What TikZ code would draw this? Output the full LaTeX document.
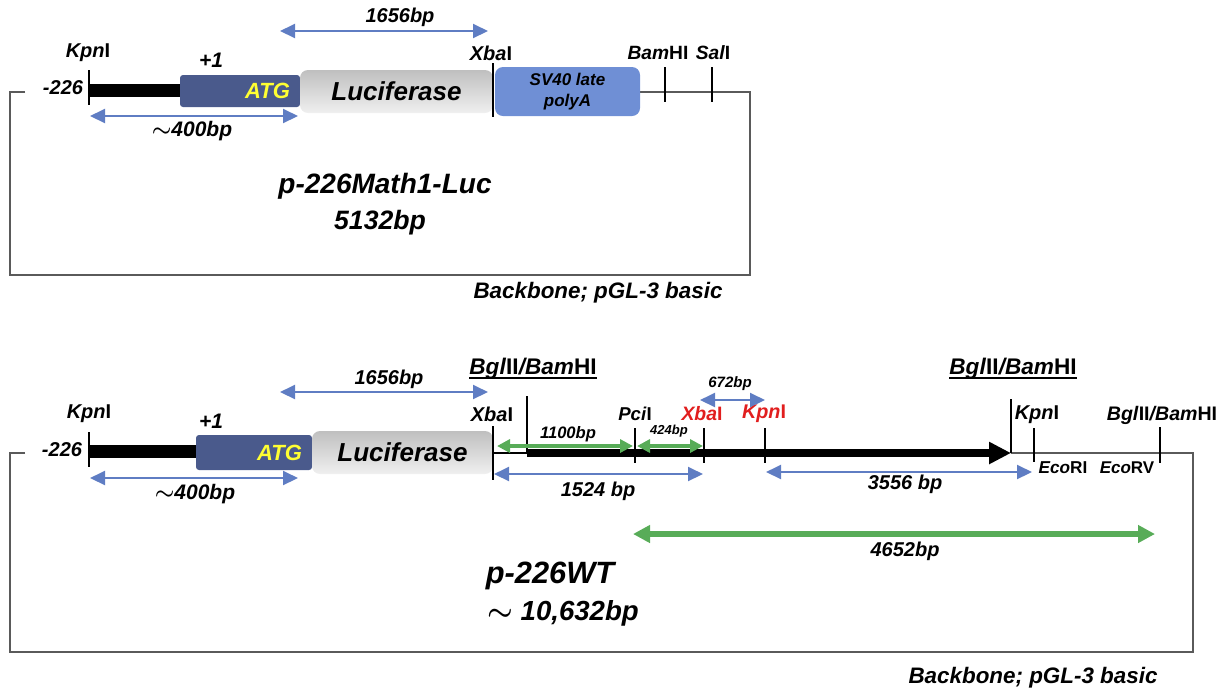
\documentclass[tikz,border=0pt]{standalone}
\usepackage{fontspec}
\setmainfont{Liberation Sans}
\usepackage{tikz}
\usetikzlibrary{arrows.meta,positioning,calc}
\definecolor{atgcol}{RGB}{74,90,140}
\definecolor{polycol}{RGB}{111,143,213}
\definecolor{bpcol}{RGB}{95,125,195}
\definecolor{gncol}{RGB}{88,172,88}
\definecolor{rdcol}{RGB}{225,30,30}
\definecolor{atgtxt}{RGB}{255,255,50}
\definecolor{framecol}{RGB}{90,90,90}
\newcommand{\enz}[2]{\textit{#1}\textup{#2}}
\newcommand{\apx}{{\boldmath$\sim$}}

\begin{document}
\begin{tikzpicture}[x=0.5pt,y=-0.5pt,
  lab/.style={font=\fontsize{#1}{#1}\selectfont\bfseries\itshape,inner sep=0pt},
  tick/.style={line width=1pt},
  frame/.style={framecol,line width=0.6pt},
  promoter/.style={line width=6.5pt},
  atgbox/.style={fill=atgcol,rounded corners=1.5pt,inner sep=0pt},
  lucbox/.style={top color=gray!50,bottom color=gray!12,rounded corners=4pt,inner sep=0pt},
  polybox/.style={fill=polycol,rounded corners=4pt,inner sep=0pt,align=center},
  bparrow/.style={bpcol,line width=1pt,{Triangle[length=7.5pt,width=7pt]}-{Triangle[length=7.5pt,width=7pt]}},
  gnarrow/.style={gncol,line width=2pt,{Triangle[length=6.5pt,width=6.5pt]}-{Triangle[length=6.5pt,width=6.5pt]}},
  bigarrow/.style={gncol,line width=3pt,{Triangle[length=8.5pt,width=8.5pt]}-{Triangle[length=8.5pt,width=8.5pt]}}]
  \useasboundingbox (0,0) rectangle (1229,692);

  % p-226Math1-Luc
  \draw[frame] (25,92) -- (10,92) -- (10,275) -- (750,275) -- (750,92) -- (640,92);
  \node[atgbox,minimum width=60pt,minimum height=16pt] (atgA) at (240,91) {};
  \node[lucbox,minimum width=96.5pt,minimum height=21.5pt,font=\fontsize{13}{13}\selectfont\bfseries\itshape] (lucA) at (396.5,91.5) {Luciferase};
  \node[polybox,minimum width=72.5pt,minimum height=24.5pt,font=\fontsize{8.5}{10.5}\selectfont\bfseries\itshape] (polyA) at (567.5,91.5) {SV40 late\\polyA};
  \coordinate (kpnA) at (89,90.5);
  \draw[promoter] (kpnA) -- (kpnA -| atgA.west);
  \draw[tick] (89,70) -- (89,105);
  \draw[tick] (493,63) -- (493,117);
  \draw[tick] (665,67) -- (665,102);
  \draw[tick] (712,67) -- (712,102);
  \node[lab=11,atgtxt,left=5pt of atgA.east] (atgtA) {ATG};
  \node[lab=10] (kpnlA) at (88,53) {\enz{Kpn}{I}};
  \node[lab=10.5] (plusA) at (211,60) {+1};
  \node[lab=10] (posA) at (63,88) {-226};
  \node[lab=10] (xbalA) at (491,53) {\enz{Xba}{I}};
  \node[lab=9.6] (bamlA) at (658,53) {\enz{Bam}{HI}};
  \node[lab=9.6] (sallA) at (713,53) {\enz{Sal}{I}};
  \coordinate (a1A) at (280,31);
  \coordinate (a2A) at (488,31);
  \coordinate (b1A) at (90,116);
  \coordinate (b2A) at (298,116);
  \draw[bparrow] (a1A) -- (a2A);
  \draw[bparrow] (b1A) -- (b2A);
  \node[lab=10] (lenaA) at (400,17) {1656bp};
  \node[lab=10.5] (lenbA) at (192,131) {\apx400bp};
  \node[lab=14] (nameA) at (385,186) {p-226Math1-Luc};
  \node[lab=13.3] (sizeA) at (380,223) {5132bp};
  \node[lab=11.2] (bbA) at (598,293) {Backbone; pGL-3 basic};

  % p-226WT
  \draw[frame] (25,453) -- (10,453) -- (10,652) -- (1193,652) -- (1193,453) -- (1011,453);
  \node[atgbox,minimum width=58pt,minimum height=17.5pt] (atgB) at (254,452.5) {};
  \node[lucbox,minimum width=90.5pt,minimum height=21.5pt,font=\fontsize{13}{13}\selectfont\bfseries\itshape] (lucB) at (402.5,452.5) {Luciferase};
  \coordinate (kpnB) at (89,451.5);
  \draw[promoter] (kpnB) -- (kpnB -| atgB.west);
  \coordinate (xbaB) at (493,453);
  \coordinate (bglB) at (527,453);
  \coordinate (kpnC) at (1011,453);
  \draw[line width=0.6pt] (xbaB) -- (bglB);
  \draw[line width=4pt,-{Triangle[length=11pt,width=10.5pt]}] (bglB) -- (kpnC);
  \draw[tick] (89,432) -- (89,467);
  \draw[tick] (493,426) -- (493,480);
  \draw[tick] (527,396) -- (527,453);
  \draw[tick] (635,428) -- (635,463);
  \draw[tick] (704,428) -- (704,463);
  \draw[tick] (765,428) -- (765,463);
  \draw[tick] (1011,399) -- (1011,453);
  \draw[tick] (1034,428) -- (1034,462);
  \draw[tick] (1160,427) -- (1160,463);
  \node[lab=11,atgtxt,left=5pt of atgB.east] (atgtB) {ATG};
  \node[lab=10] (kpnlB) at (89,414) {\enz{Kpn}{I}};
  \node[lab=10.5] (plusB) at (211,421) {+1};
  \node[lab=10] (posB) at (62,450) {-226};
  \node[lab=10] (xbalB) at (492,414) {\enz{Xba}{I}};
  \node[lab=9.3] (pcilB) at (635,414) {\enz{Pci}{I}};
  \node[lab=9.7,rdcol] (xbarB) at (702,414) {\enz{Xba}{I}};
  \node[lab=9.9,rdcol] (kpnrB) at (764,414) {\enz{Kpn}{I}};
  \node[lab=10] (kpnlC) at (1037,415) {\enz{Kpn}{I}};
  \node[lab=9.8] (bgllC) at (1162,415) {\enz{Bgl}{II}/\enz{Bam}{HI}};
  \node[lab=8.6] (ecoB) at (1063,468) {\enz{Eco}{RI}};
  \node[lab=8.5] (ecovB) at (1127,468) {\enz{Eco}{RV}};
  \node[lab=11.3] (bglB1) at (533,369) {\enz{Bgl}{II}/\enz{Bam}{HI}};
  \node[lab=11.3] (bglB2) at (1013,369) {\enz{Bgl}{II}/\enz{Bam}{HI}};
  \draw[line width=1pt] ($(bglB1.base west)+(0,3)$) -- ($(bglB1.base east)+(0,3)$);
  \draw[line width=1pt] ($(bglB2.base west)+(0,3)$) -- ($(bglB2.base east)+(0,3)$);
  \coordinate (a1B) at (280,392);
  \coordinate (a2B) at (488,392);
  \coordinate (b1B) at (90,478);
  \coordinate (b2B) at (298,478);
  \coordinate (c1B) at (497,446);
  \coordinate (c2B) at (633,446);
  \coordinate (d1B) at (637,446);
  \coordinate (d2B) at (703,446);
  \coordinate (e1B) at (494,474);
  \coordinate (e2B) at (703,474);
  \coordinate (f1B) at (700,400);
  \coordinate (f2B) at (765,400);
  \coordinate (g1B) at (766,472);
  \coordinate (g2B) at (1032,472);
  \coordinate (h1B) at (633,534);
  \coordinate (h2B) at (1155,534);
  \draw[bparrow] (a1B) -- (a2B);
  \draw[bparrow] (b1B) -- (b2B);
  \draw[gnarrow] (c1B) -- (c2B);
  \draw[gnarrow] (d1B) -- (d2B);
  \draw[bparrow] (e1B) -- (e2B);
  \draw[bparrow] (f1B) -- (f2B);
  \draw[bparrow] (g1B) -- (g2B);
  \draw[bigarrow] (h1B) -- (h2B);
  \node[lab=10] (lenaB) at (389,379) {1656bp};
  \node[lab=10.5] (lenbB) at (195,494) {\apx400bp};
  \node[lab=8.3] (lencB) at (568,434) {1100bp};
  \node[lab=6.5] (lendB) at (669,431) {424bp};
  \node[lab=10] (leneB) at (598,491) {1524 bp};
  \node[lab=7.5] (lenfB) at (730,384) {672bp};
  \node[lab=10] (lengB) at (905,484) {3556 bp};
  \node[lab=10] (lenhB) at (905,551) {4652bp};
  \node[lab=15.4] (nameB) at (550,576) {p-226WT};
  \node[lab=13.8] (sizeB) at (563,613) {\apx{} 10,632bp};
  \node[lab=11.2] (bbB) at (1033,678) {Backbone; pGL-3 basic};
\end{tikzpicture}
\end{document}
